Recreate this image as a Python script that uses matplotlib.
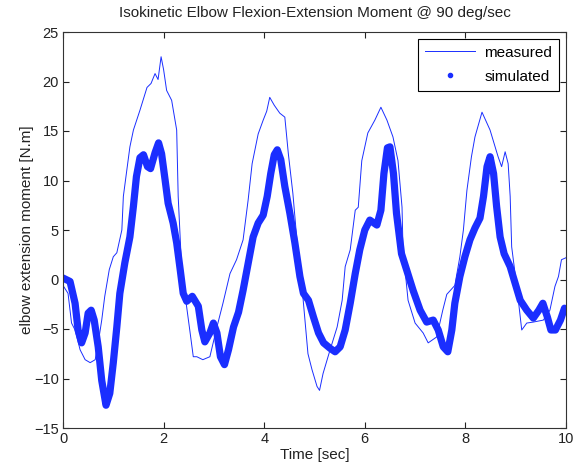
import matplotlib
matplotlib.use("Agg")
import matplotlib.pyplot as plt
from matplotlib.lines import Line2D

plt.rcParams['font.family'] = ['Liberation Sans', 'DejaVu Sans']

# measured (thin line)
meas_t = [0.0, 0.1, 0.17, 0.24, 0.34, 0.44, 0.54, 0.64, 0.70, 0.77, 0.83, 0.92, 1.0, 1.07,
          1.17, 1.2, 1.27, 1.33, 1.40, 1.53, 1.67, 1.75, 1.83, 1.89, 1.95, 2.0, 2.06, 2.16,
          2.26, 2.29, 2.36, 2.43, 2.52, 2.59, 2.66, 2.78, 2.92, 3.06, 3.18, 3.32, 3.45, 3.58,
          3.68, 3.76, 3.88, 3.98, 4.05, 4.11, 4.2, 4.31, 4.41, 4.48, 4.57, 4.65, 4.77, 4.87,
          4.95, 5.05, 5.1, 5.17, 5.31, 5.45, 5.55, 5.61, 5.71, 5.81, 5.87, 5.94, 6.06, 6.2,
          6.32, 6.44, 6.56, 6.66, 6.74, 6.76, 6.86, 7.0, 7.16, 7.26, 7.43, 7.55, 7.63, 7.79,
          7.89, 7.96, 8.03, 8.12, 8.19, 8.33, 8.49, 8.65, 8.72, 8.79, 8.85, 8.89, 8.92, 9.03,
          9.12, 9.22, 9.35, 9.55, 9.68, 9.78, 9.85, 9.91, 10.0]
meas_v = [-0.6, -1.4, -4.4, -5.1, -7.1, -8.1, -8.4, -8.1, -6.4, -4.1, -1.7, 1.0, 2.3, 2.7,
          5.0, 8.4, 11.1, 13.4, 15.1, 17.1, 19.4, 19.8, 20.8, 20.2, 22.5, 21.2, 19.1, 18.1,
          15.1, 8.4, 1.0, -1.7, -5.1, -7.8, -7.8, -8.1, -7.8, -4.8, -2.4, 0.6, 2.0, 4.0,
          8.0, 11.7, 14.7, 16.1, 17.0, 18.4, 17.6, 16.8, 16.4, 12.7, 8.7, 4.0, -1.8, -7.5,
          -9.1, -10.8, -11.2, -9.5, -7.1, -4.8, -2.1, 1.3, 3.0, 7.0, 7.3, 12.0, 14.8, 16.1,
          17.4, 16.1, 14.4, 12.0, 7.3, 3.0, -2.1, -4.4, -5.4, -6.4, -5.8, -3.1, -1.5, -0.6,
          2.3, 5.0, 9.0, 12.4, 14.4, 16.9, 15.1, 12.4, 11.4, 12.9, 11.7, 8.4, 3.3, -1.1,
          -5.1, -4.4, -4.3, -4.1, -3.1, -0.7, 0.3, 2.0, 2.2]

# simulated (thick)
sim_t = [0.0, 0.14, 0.24, 0.30, 0.37, 0.44, 0.50, 0.56, 0.62, 0.70, 0.77, 0.855, 0.93, 1.0,
         1.07, 1.13, 1.23, 1.33, 1.40, 1.46, 1.53, 1.60, 1.68, 1.74, 1.83, 1.90, 1.96, 2.03,
         2.09, 2.19, 2.26, 2.33, 2.39, 2.46, 2.57, 2.69, 2.76, 2.82, 2.92, 2.99, 3.06, 3.13,
         3.21, 3.29, 3.39, 3.49, 3.58, 3.68, 3.78, 3.88, 3.98, 4.06, 4.13, 4.20, 4.26, 4.33,
         4.41, 4.51, 4.61, 4.71, 4.78, 4.88, 4.98, 5.08, 5.18, 5.31, 5.41, 5.51, 5.61, 5.71,
         5.81, 5.90, 6.00, 6.10, 6.24, 6.32, 6.38, 6.45, 6.50, 6.57, 6.63, 6.73, 6.83, 6.96,
         7.10, 7.23, 7.36, 7.46, 7.56, 7.65, 7.73, 7.79, 7.89, 7.99, 8.09, 8.19, 8.29, 8.36,
         8.43, 8.49, 8.56, 8.62, 8.69, 8.77, 8.89, 8.99, 9.09, 9.22, 9.35, 9.46, 9.54, 9.63,
         9.70, 9.79, 9.89, 9.97]
sim_v = [0.15, -0.2, -2.4, -5.1, -6.4, -5.4, -3.4, -3.1, -4.1, -6.8, -10.2, -12.7, -11.5, -8.4,
         -4.8, -1.4, 1.7, 4.3, 7.4, 10.4, 12.3, 12.6, 11.4, 11.2, 12.8, 13.8, 12.7, 10.05,
         7.7, 5.7, 3.7, 1.0, -1.4, -2.2, -1.7, -2.7, -5.1, -6.3, -5.4, -4.4, -5.4, -7.8,
         -8.6, -7.1, -4.8, -3.3, -1.1, 1.6, 4.3, 5.7, 6.5, 8.4, 10.7, 12.6, 13.1, 12.1,
         9.4, 6.7, 3.7, 0.3, -1.4, -2.1, -3.8, -5.4, -6.4, -6.95, -7.3, -6.8, -5.1, -2.4,
         0.6, 3.0, 5.0, 6.0, 5.5, 7.0, 10.7, 13.3, 13.4, 10.7, 6.7, 2.6, 1.0, -1.1,
         -3.1, -4.3, -4.1, -5.1, -6.8, -7.3, -5.1, -2.4, 0.3, 2.3, 4.0, 5.2, 6.2, 8.4,
         11.4, 12.4, 10.7, 7.4, 4.3, 2.6, 1.3, -0.4, -2.1, -3.1, -3.9, -3.1, -2.4, -3.8,
         -5.1, -5.1, -4.1, -2.9]

x_ticks = [0, 2, 4, 6, 8, 10]
y_ticks = [-15, -10, -5, 0, 5, 10, 15, 20, 25]

fig = plt.figure(figsize=(5.76, 4.70), dpi=100)
ax = fig.add_axes([63/576, 1-428/470, 503/576, 396/470])

blue = '#1a2eff'
ax.plot(meas_t, meas_v, color=blue, lw=0.7)
ax.plot(sim_t, sim_v, color=blue, lw=5.2, solid_capstyle='round', solid_joinstyle='round')

ax.set_xlim(0, 10)
ax.set_ylim(-15, 25)
ax.set_xticks(x_ticks)
ax.set_yticks(y_ticks)
ax.tick_params(direction='in', top=True, right=True, labelsize=10.5, length=4, width=0.8,
               pad=3, colors='#222222', labelcolor='#222222')
for s in ax.spines.values():
    s.set_linewidth(0.8)
    s.set_color('#333333')

ax.set_title('Isokinetic Elbow Flexion-Extension Moment @ 90 deg/sec', fontsize=11, pad=11,
             color='#222222')
ax.set_xlabel('Time [sec]', fontsize=11, labelpad=1, color='#222222')
ax.set_ylabel('elbow extension moment [N.m]', fontsize=11, labelpad=0, color='#222222')

handles = [Line2D([], [], color=blue, lw=0.7),
           Line2D([], [], color=blue, ls='none', marker='.', markersize=6)]
leg = ax.legend(handles, ['measured', 'simulated'], loc='upper right', fontsize=11,
                fancybox=False, edgecolor='black', framealpha=1, borderaxespad=0.45,
                handlelength=3.3, borderpad=0.45, labelspacing=0.65, handletextpad=0.6)
leg.get_frame().set_linewidth(0.8)

fig.savefig('out.png', dpi=100)
